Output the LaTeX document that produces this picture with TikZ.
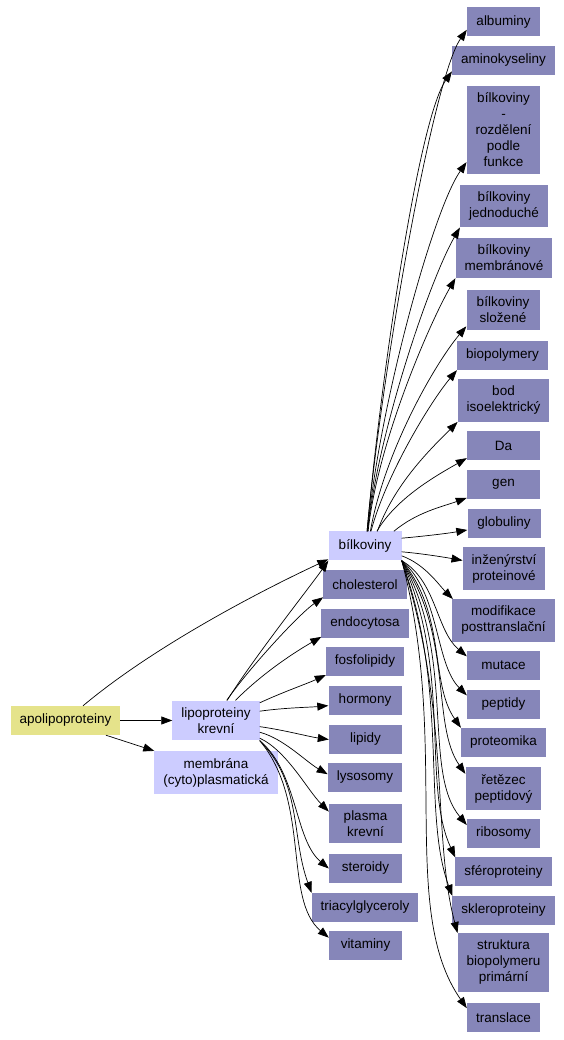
\documentclass[tikz,border=0pt]{standalone}
\usepackage{fontspec}
\setmainfont{Liberation Sans}
\usetikzlibrary{arrows.meta}
\definecolor{leafblue}{RGB}{134,134,185}
\definecolor{hubblue}{RGB}{204,204,255}
\definecolor{rootyellow}{RGB}{229,227,139}
\tikzset{
  gvbox/.style={fill=#1, inner xsep=9pt, inner ysep=7pt, minimum width=73pt,
    minimum height=29pt, align=center, font=\fontsize{13.5}{16}\selectfont},
  leaf/.style={gvbox=leafblue},
  hub/.style={gvbox=hubblue},
  root/.style={gvbox=rootyellow},
  link/.style={-{Triangle[length=11pt,width=8pt]}, line width=0.7pt},
}
\begin{document}
\begin{tikzpicture}[x=1pt, y=1pt]
    \useasboundingbox (0,0) rectangle (564,1040);
    % left and middle
    \node[root] (apo) at (65.5,319.5) {apolipoproteiny};
    \node[hub] (lip) at (216,319.5) {lipoproteiny\\krevní};
    \node[hub] (mem) at (216,267.5) {membrána\\(cyto)plasmatická};
    \node[hub] (bilk) at (365,494) {bílkoviny};
    \node[leaf] (chol) at (365,455.5) {cholesterol};
    \node[leaf] (endo) at (365,416.5) {endocytosa};
    \node[leaf] (fosf) at (365,378.5) {fosfolipidy};
    \node[leaf] (horm) at (365,339.5) {hormony};
    \node[leaf] (lipi) at (365.5,300.5) {lipidy};
    \node[leaf] (lyso) at (365,262.5) {lysosomy};
    \node[leaf] (plas) at (365.5,216.5) {plasma\\krevní};
    \node[leaf] (ster) at (365.5,171.5) {steroidy};
    \node[leaf] (tria) at (365,132.5) {triacylglyceroly};
    \node[leaf] (vita) at (365.5,94.5) {vitaminy};
    % right column
    \node[leaf] (alb) at (503.5,1018) {albuminy};
    \node[leaf] (amin) at (503.5,979.5) {aminokyseliny};
    \node[leaf] (brozd) at (503.5,910) {bílkoviny\\-\\rozdělení\\podle\\funkce};
    \node[leaf] (bjed) at (504,834) {bílkoviny\\jednoduché};
    \node[leaf] (bmem) at (504,782) {bílkoviny\\membránové};
    \node[leaf] (bslo) at (503,730) {bílkoviny\\složené};
    \node[leaf] (biop) at (502.5,684.5) {biopolymery};
    \node[leaf] (bod) at (503.5,639.5) {bod\\isoelektrický};
    \node[leaf] (da) at (503.5,594.5) {Da};
    \node[leaf] (gen) at (503.5,555.5) {gen};
    \node[leaf] (glob) at (504,516.5) {globuliny};
    \node[leaf] (inz) at (504,471.5) {inženýrství\\proteinové};
    \node[leaf] (modi) at (503.5,419.5) {modifikace\\posttranslační};
    \node[leaf] (muta) at (503.5,374.5) {mutace};
    \node[leaf] (pept) at (503.5,335.5) {peptidy};
    \node[leaf] (prot) at (503.5,297.5) {proteomika};
    \node[leaf] (reta) at (503.5,251.5) {řetězec\\peptidový};
    \node[leaf] (ribo) at (503.5,206.5) {ribosomy};
    \node[leaf] (sfer) at (503.5,168) {sféroproteiny};
    \node[leaf] (skle) at (503.5,129.5) {skleroproteiny};
    \node[leaf] (stru) at (503.5,77.5) {struktura\\biopolymeru\\primární};
    \node[leaf] (tran) at (503.5,22) {translace};
    % apolipoproteiny
    \draw[link] (apo) -- (lip);
    \draw[link] (apo.340) -- (mem.north west);
    \draw[link] (apo.40) .. controls +(40:90) and +(205:80) .. (bilk.200);
    % lipoproteiny krevni
    \draw[link] (lip.61) .. controls +(58:50) and +(235:30) .. (bilk.south west);
    \draw[link] (lip.62) .. controls +(55:40) and +(215:30) .. (chol.197);
    \draw[link] (lip.46) .. controls +(45:40) and +(210:30) .. (endo.197);
    \draw[link] (lip.22) .. controls +(25:25) and +(205:20) .. (fosf.199);
    \draw[link] (lip.12) .. controls +(8:25) and +(185:20) .. (horm.188);
    \draw[link] (lip.352) .. controls +(-8:25) and +(172:20) .. (lipi.west);
    \draw[link] (lip.345) .. controls +(-15:25) and +(150:25) .. (lyso.175);
    \draw[link] (lip.338) .. controls +(-25:30) and +(135:30) .. (plas.162);
    \draw[link] (lip.south east) .. controls +(-40:50) and +(140:45) .. (ster.west);
    \draw[link] (lip.south east) .. controls +(-45:60) and +(110:60) .. (tria.north west);
    \draw[link] (lip.south east) .. controls +(-50:80) and +(140:60) .. (vita.168);
    % bilkoviny, upwards
    \draw[link] (bilk.82) .. controls +(85:150) and +(235:60) .. (alb.192);
    \draw[link] (bilk.82) .. controls +(85:140) and +(235:60) .. (amin.192);
    \draw[link] (bilk.80) .. controls +(85:120) and +(235:60) .. (brozd.221);
    \draw[link] (bilk.80) .. controls +(84:100) and +(240:60) .. (bjed.south west);
    \draw[link] (bilk.78) .. controls +(84:90) and +(240:50) .. (bmem.south west);
    \draw[link] (bilk.70) .. controls +(80:80) and +(230:50) .. (bslo.204);
    \draw[link] (bilk.68) .. controls +(75:60) and +(230:40) .. (biop.south west);
    \draw[link] (bilk.50) .. controls +(70:50) and +(225:40) .. (bod.south west);
    \draw[link] (bilk.51) .. controls +(60:40) and +(210:30) .. (da.199);
    \draw[link] (bilk.27) .. controls +(40:30) and +(200:25) .. (gen.200);
    \draw[link] (bilk.12) .. controls +(5:20) and +(190:20) .. (glob.190);
    % bilkoviny, downwards
    \draw[link] (bilk.351) .. controls +(-5:20) and +(170:20) .. (inz.169);
    \draw[link] (bilk.345) .. controls +(-20:25) and +(135:20) .. (modi.157);
    \draw[link] (bilk.south east) .. controls +(-30:40) and +(140:40) .. (muta.166);
    \draw[link] (bilk.south east) .. controls +(-40:50) and +(135:45) .. (pept.166);
    \draw[link] (bilk.south east) .. controls +(-50:70) and +(125:55) .. (prot.north west);
    \draw[link] (bilk.south east) .. controls +(-55:90) and +(125:60) .. (reta.159);
    \draw[link] (bilk.south east) .. controls +(-60:110) and +(130:70) .. (ribo.167);
    \draw[link] (bilk.south east) .. controls +(-65:120) and +(115:80) .. (sfer.north west);
    \draw[link] (bilk.south east) .. controls +(-70:140) and +(110:90) .. (skle.north west);
    \draw[link] (bilk.south east) .. controls +(-72:160) and +(105:100) .. (stru.north west);
    \draw[link] (bilk.south east) .. controls +(-75:190) and +(125:120) .. (tran.165);
\end{tikzpicture}
\end{document}
